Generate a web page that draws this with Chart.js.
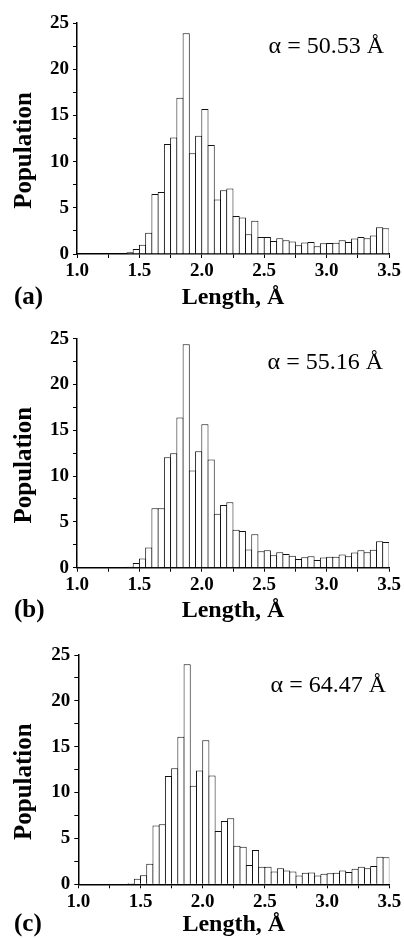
<!DOCTYPE html>
<html>
<head>
    <meta charset="UTF-8">
    <title>Population vs. Length</title>
    <script src="https://cdn.jsdelivr.net/npm/chart.js"></script>
    <style>
        html, body { margin: 0; padding: 0; background: #fff; overflow: hidden; }
        .panel { position: absolute; left: 0; width: 404px; }
    </style>
</head>
<body>
<div class="panel" style="top:0px;height:314px"><canvas id="chartA"></canvas></div>
<div class="panel" style="top:314px;height:313px"><canvas id="chartB"></canvas></div>
<div class="panel" style="top:627px;height:314px"><canvas id="chartC"></canvas></div>

<script>
    // Histogramm-Daten: linke Kante jeder Klasse (Breite 0.05 Å)
    const binWidth = 0.05;
    const binStart = [1.40, 1.45, 1.50, 1.55, 1.60, 1.65, 1.70, 1.75, 1.80, 1.85,
                      1.90, 1.95, 2.00, 2.05, 2.10, 2.15, 2.20, 2.25, 2.30, 2.35,
                      2.40, 2.45, 2.50, 2.55, 2.60, 2.65, 2.70, 2.75, 2.80, 2.85,
                      2.90, 2.95, 3.00, 3.05, 3.10, 3.15, 3.20, 3.25, 3.30, 3.35,
                      3.40, 3.45];

    const popA = [0.18, 0.55, 1.0, 2.3, 6.5, 6.7, 11.9, 12.6, 16.9, 23.9,
                  10.9, 12.8, 15.7, 11.8, 5.9, 6.9, 7.1, 4.1, 3.95, 2.15,
                  3.6, 1.85, 1.85, 1.4, 1.7, 1.5, 1.35, 0.95, 1.25, 1.3,
                  0.85, 1.16, 1.18, 1.23, 1.5, 1.3, 1.68, 1.85, 1.7, 2.0,
                  2.9, 2.8];
    const popB = [0.1, 0.5, 1.0, 2.2, 6.5, 6.5, 12.05, 12.5, 16.4, 24.4,
                  10.6, 12.7, 15.65, 11.8, 5.9, 6.85, 7.15, 4.15, 4.0, 2.0,
                  3.65, 1.8, 1.9, 1.35, 1.7, 1.5, 1.3, 0.95, 1.15, 1.25,
                  0.85, 1.1, 1.2, 1.2, 1.45, 1.25, 1.65, 1.9, 1.7, 1.95,
                  2.9, 2.8];
    const popC = [0.15, 0.6, 1.0, 2.25, 6.4, 6.55, 11.8, 12.65, 16.1, 24.0,
                  10.75, 12.4, 15.7, 11.85, 5.8, 6.9, 7.2, 4.2, 4.1, 2.1,
                  3.75, 1.9, 1.9, 1.4, 1.75, 1.5, 1.4, 0.95, 1.25, 1.3,
                  0.95, 1.15, 1.2, 1.25, 1.5, 1.35, 1.7, 1.9, 1.75, 2.0,
                  3.0, 2.95];

    const panelLabels = ["(a)", "(b)", "(c)"];
    const alphaLabels = ["α = 50.53 Å", "α = 55.16 Å", "α = 64.47 Å"];
    const xTitle = "Length, Å";
    const yTitle = "Population";

    Chart.defaults.font.family = "'Liberation Serif', 'Times New Roman', serif";
    Chart.defaults.color = "#000";

    // Beschriftungen: Panelbuchstabe, alpha-Wert, y-Achsentitel
    const panelText = {
        id: "panelText",
        afterDraw(chart, args, opts) {
            const ctx = chart.ctx;
            const area = chart.chartArea;
            const xs = chart.scales.x;
            ctx.save();
            ctx.fillStyle = "#000";
            ctx.textBaseline = "middle";

            ctx.font = "24px 'Liberation Serif'";
            ctx.textAlign = "right";
            ctx.fillText(opts.alpha, opts.alphaRight, area.top + opts.alphaDy);

            ctx.font = "bold 25px 'Liberation Serif'";
            ctx.textAlign = "left";
            ctx.fillText(opts.label, 14, xs.bottom - 16);

            ctx.translate(25, (area.top + area.bottom) / 2 + 12);
            ctx.rotate(-Math.PI / 2);
            ctx.textAlign = "center";
            ctx.font = "bold 25px 'Liberation Serif'";
            ctx.fillText(yTitle, 0, 0);
            ctx.restore();
        }
    };

    function makeChart(id, values, idx, layout) {
        const points = binStart.map((b, i) => ({ x: b + binWidth / 2, y: values[i] }));
        return new Chart(document.getElementById(id), {
            type: "bar",
            data: {
                datasets: [{
                    data: points,
                    backgroundColor: "#fff",
                    borderColor: "#111",
                    borderWidth: 1,
                    categoryPercentage: 1,
                    barPercentage: 1.15
                }]
            },
            plugins: [panelText],
            options: {
                responsive: true,
                maintainAspectRatio: false,
                animation: false,
                layout: { padding: { top: layout.padTop, right: layout.padRight, left: 0, bottom: 0 } },
                plugins: {
                    legend: { display: false },
                    tooltip: { enabled: false },
                    panelText: {
                        label: panelLabels[idx],
                        alpha: alphaLabels[idx],
                        alphaRight: layout.alphaRight,
                        alphaDy: layout.alphaDy
                    }
                },
                scales: {
                    x: {
                        type: "linear",
                        min: 1.0,
                        max: 3.5,
                        offset: false,
                        afterFit: s => { s.height = layout.xHeight; },
                        ticks: {
                            stepSize: 0.25,
                            autoSkip: false,
                            maxRotation: 0,
                            padding: 2,
                            font: { size: 19, weight: "bold" },
                            callback: v => (Math.round(v * 100) % 50 === 0) ? v.toFixed(1) : ""
                        },
                        grid: { drawOnChartArea: false, offset: false, tickLength: 4, color: "#000" },
                        border: { color: "#000", width: 1.5 },
                        title: {
                            display: true,
                            text: xTitle,
                            font: { size: 24, weight: "bold" },
                            padding: { top: 0, bottom: 2 }
                        }
                    },
                    y: {
                        min: 0,
                        max: 25,
                        afterFit: s => { s.width = layout.yWidth; },
                        ticks: {
                            stepSize: 2.5,
                            autoSkip: false,
                            padding: 4,
                            font: { size: 19, weight: "bold" },
                            callback: v => (v % 5 === 0) ? String(v) : ""
                        },
                        grid: { drawOnChartArea: false, tickLength: 4, color: "#000" },
                        border: { color: "#000", width: 1.5 }
                    }
                }
            }
        });
    }

    makeChart("chartA", popA, 0, { padTop: 23, padRight: 15, xHeight: 60, yWidth: 77, alphaRight: 384, alphaDy: 24 });
    makeChart("chartB", popB, 1, { padTop: 24.7, padRight: 15, xHeight: 59.3, yWidth: 77, alphaRight: 383, alphaDy: 24 });
    makeChart("chartC", popC, 2, { padTop: 28, padRight: 14.7, xHeight: 56.7, yWidth: 78.3, alphaRight: 386, alphaDy: 31 });
</script>
</body>
</html>
